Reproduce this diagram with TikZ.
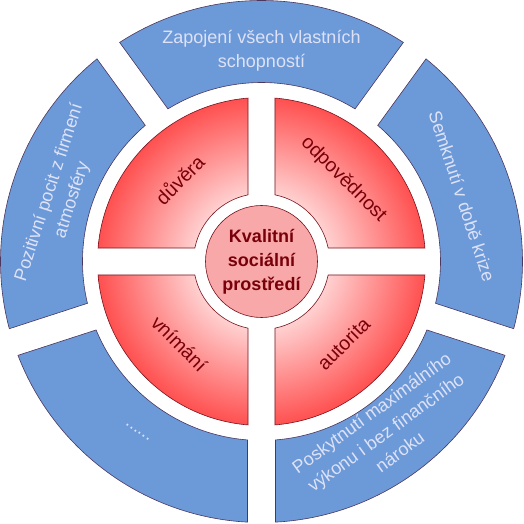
\documentclass[tikz,border=0pt]{standalone}
\usepackage{fontspec}
\setmainfont{Liberation Sans}
\definecolor{segblue}{RGB}{108,153,216}
\definecolor{segline}{RGB}{75,55,95}
\definecolor{bluetxt}{RGB}{222,226,246}
\definecolor{qlight}{RGB}{255,208,208}
\definecolor{qdark}{RGB}{255,80,80}
\definecolor{qline}{RGB}{120,20,30}
\definecolor{redtxt}{RGB}{120,0,10}
\definecolor{cfill}{RGB}{248,168,168}
\pgfdeclareradialshading{quadshade}{\pgfpoint{0bp}{0bp}}{color(0bp)=(qlight); color(10.4bp)=(qlight); color(25bp)=(qdark); color(50bp)=(qdark)}
\tikzset{
  outerseg/.style={fill=segblue, draw=segline, line width=0.6pt},
  quadedge/.style={draw=qline, line width=0.6pt},
  bluelbl/.style={text=bluetxt, font=\fontsize{18}{24}\selectfont, align=center, inner sep=0pt},
  redlbl/.style={text=redtxt, font=\fontsize{19.5}{24}\selectfont, inner sep=0pt},
  hubnode/.style={circle, minimum size=112pt, inner sep=0pt, fill=cfill, draw=qline, line width=0.6pt,
    text=redtxt, font=\bfseries\fontsize{18}{24}\selectfont, align=center}
}
\begin{document}
\begin{tikzpicture}
\useasboundingbox (-261.5pt,-262.5pt) rectangle (261.5pt,261.5pt);
% outer ring segments
\foreach \c in {90,18,-54,-126,-198}{
  \pgfmathsetmacro\sa{\c+36-asin(14/261)}
  \pgfmathsetmacro\sb{\c-36+asin(14/261)}
  \pgfmathsetmacro\sc{\c-36+asin(14/179)}
  \pgfmathsetmacro\sd{\c+36-asin(14/179)}
  \draw[outerseg] (\sa:261pt) arc[start angle=\sa,end angle=\sb,radius=261pt]
    -- (\sc:179pt) arc[start angle=\sc,end angle=\sd,radius=179pt] -- cycle;
}
% inner quadrants
\foreach \c in {45,135,225,315}{
  \pgfmathsetmacro\sa{\c+45-asin(13.5/164)}
  \pgfmathsetmacro\sb{\c-45+asin(13.5/164)}
  \pgfmathsetmacro\sc{\c-45+asin(13.5/68)}
  \pgfmathsetmacro\sd{\c+45-asin(13.5/68)}
  \begin{scope}
    \clip (\sa:164pt) arc[start angle=\sa,end angle=\sb,radius=164pt]
      -- (\sc:68pt) arc[start angle=\sc,end angle=\sd,radius=68pt] -- cycle;
    \shade[shading=quadshade] (0,0) circle (164pt);
  \end{scope}
  \draw[quadedge] (\sa:164pt) arc[start angle=\sa,end angle=\sb,radius=164pt]
    -- (\sc:68pt) arc[start angle=\sc,end angle=\sd,radius=68pt] -- cycle;
}
% hub
\node[hubnode] (hub) at (0,0) {Kvalitní\\sociální\\prostředí};
% inner labels
\node[redlbl, rotate=45] (q1) at (135:116pt) {důvěra};
\node[redlbl, rotate=-45] (q2) at (45:116pt) {odpovědnost};
\node[redlbl, rotate=-45] (q3) at (225:116pt) {vnímání};
\node[redlbl, rotate=45] (q4) at (315:116pt) {autorita};
% outer labels
\node[bluelbl] (l1) at (90:211pt) {Zapojení všech vlastních\\schopností};
\node[bluelbl, rotate=-72] (l2) at (18:211pt) {Semknutí v době krize};
\node[bluelbl, rotate=36] (l3) at (-54:211pt) {Poskytnutí maximálního\\výkonu i bez finančního\\nároku};
\node[bluelbl, rotate=-36] (l4) at (-126:211pt) {......};
\node[bluelbl, rotate=72] (l5) at (162:211pt) {Pozitivní pocit z firmení\\atmosféry};
\end{tikzpicture}
\end{document}
